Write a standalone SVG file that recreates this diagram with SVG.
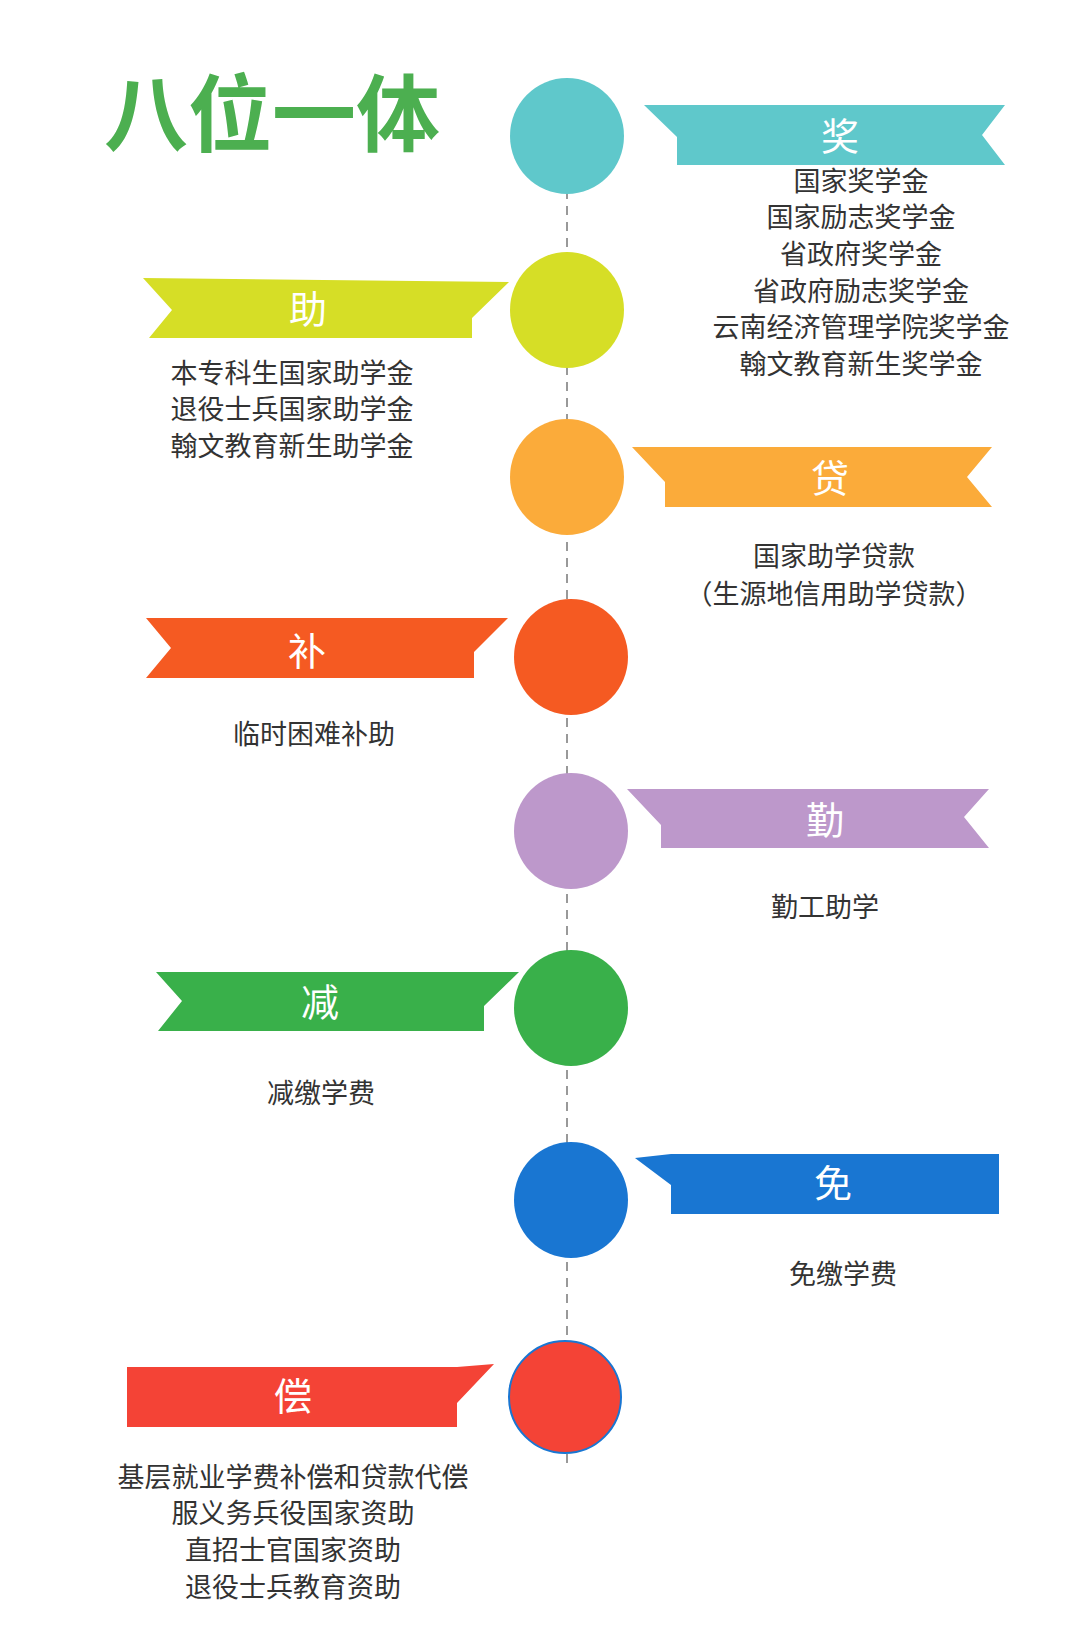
<svg xmlns="http://www.w3.org/2000/svg" width="1080" height="1634" viewBox="0 0 1080 1634">
<style>
.t{font-family:"Liberation Sans","Noto Sans CJK SC",sans-serif;font-size:27px;fill:#333;text-anchor:middle}
.r{font-family:"Liberation Sans","Noto Sans CJK SC",sans-serif;font-size:38px;fill:#fff;text-anchor:middle}
</style>
<rect width="1080" height="1634" fill="#fff"/>
<text x="272" y="145" font-family="Liberation Sans,Noto Sans CJK SC,sans-serif" font-size="84" font-weight="bold" fill="#4CAF50" text-anchor="middle">八位一体</text>
<g id="connectors"><line x1="567" y1="190" x2="567" y2="1463" stroke="#999" stroke-width="2" stroke-dasharray="9 7"/></g>
<g id="n1"><ellipse cx="567" cy="136" rx="57" ry="58" fill="#5FC8CB"/><polygon points="644,105 1005,105 982,135 1005,165 677,165 677,137" fill="#5FC8CB"/><text class="r" x="840" y="150">奖</text>
<text class="t" x="861" y="191">国家奖学金</text><text class="t" x="861" y="227">国家励志奖学金</text><text class="t" x="861" y="264">省政府奖学金</text><text class="t" x="861" y="301">省政府励志奖学金</text><text class="t" x="861" y="337">云南经济管理学院奖学金</text><text class="t" x="861" y="374">翰文教育新生奖学金</text></g>
<g id="n2"><ellipse cx="567" cy="310" rx="57" ry="58" fill="#D6DE26"/><polygon points="143,278 509,282 472,318 472,338 149,338 172,310" fill="#D6DE26"/><text class="r" x="308" y="323">助</text>
<text class="t" x="292" y="383">本专科生国家助学金</text><text class="t" x="292" y="419">退役士兵国家助学金</text><text class="t" x="292" y="456">翰文教育新生助学金</text></g>
<g id="n3"><ellipse cx="567" cy="477" rx="57" ry="58" fill="#FBAB3A"/><polygon points="632,447 992,447 967,477 992,507 665,507 665,482" fill="#FBAB3A"/><text class="r" x="830" y="492">贷</text>
<text class="t" x="834" y="566">国家助学贷款</text><text class="t" x="834" y="604">（生源地信用助学贷款）</text></g>
<g id="n4"><ellipse cx="571" cy="657" rx="57" ry="58" fill="#F55A22"/><polygon points="146,618 508,618 474,652 474,678 146,678 171,648" fill="#F55A22"/><text class="r" x="307" y="665">补</text>
<text class="t" x="314" y="744">临时困难补助</text></g>
<g id="n5"><ellipse cx="571" cy="831" rx="57" ry="58" fill="#BD98CB"/><polygon points="627,789 989,789 964,817 989,848 661,848 661,825" fill="#BD98CB"/><text class="r" x="825" y="834">勤</text>
<text class="t" x="825" y="917">勤工助学</text></g>
<g id="n6"><ellipse cx="571" cy="1008" rx="57" ry="58" fill="#39B04A"/><polygon points="156,972 519,972 484,1006 484,1031 158,1031 182,1001" fill="#39B04A"/><text class="r" x="320" y="1016">减</text>
<text class="t" x="321" y="1103">减缴学费</text></g>
<g id="n7"><ellipse cx="571" cy="1200" rx="57" ry="58" fill="#1976D2"/><polygon points="635,1158 671,1154 999,1154 999,1214 671,1214 671,1185" fill="#1976D2"/><text class="r" x="833" y="1197">免</text>
<text class="t" x="843" y="1284">免缴学费</text></g>
<g id="n8"><ellipse cx="565" cy="1397" rx="56" ry="56" fill="#F44336" stroke="#1976D2" stroke-width="2"/><polygon points="127,1367 457,1367 494,1364 457,1403 457,1427 127,1427" fill="#F44336"/><text class="r" x="293" y="1410">偿</text>
<text class="t" x="293" y="1487">基层就业学费补偿和贷款代偿</text><text class="t" x="293" y="1523">服义务兵役国家资助</text><text class="t" x="293" y="1560">直招士官国家资助</text><text class="t" x="293" y="1597">退役士兵教育资助</text></g>
</svg>
